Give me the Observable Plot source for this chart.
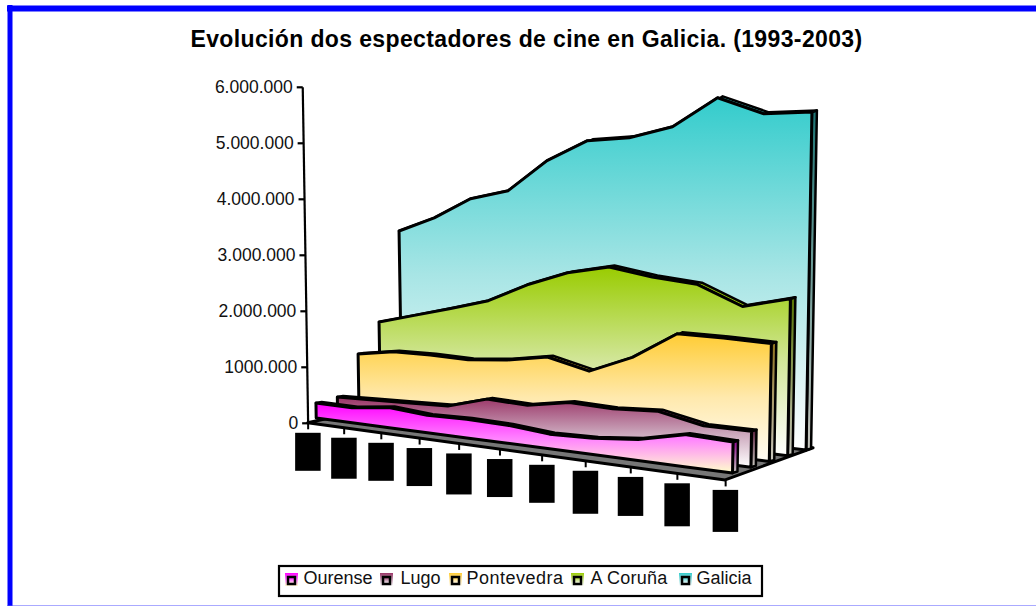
<!DOCTYPE html>
<html>
<head>
<meta charset="utf-8">
<script src="https://cdn.jsdelivr.net/npm/d3@7"></script>
<script src="https://cdn.jsdelivr.net/npm/@observablehq/plot@0.6"></script>
<style>html,body{margin:0;padding:0;background:#fff}svg{display:block}</style>
</head>
<body>
<div id="chart"></div>
<script>
const titleText = "Evolución dos espectadores de cine en Galicia. (1993-2003)";
const years = [1993,1994,1995,1996,1997,1998,1999,2000,2001,2002,2003];
const ourense    = [268000,267000,356000,307000,329000,318000,257000,284000,366000,554000,534000];
const lugo       = [304000,333000,362000,394000,602000,582000,724000,707000,764000,612000,621000];
const pontevedra = [1000000,1114000,1138000,1131000,1211000,1347000,1185000,1514000,2017000,2033000,2034000];
const coruna     = [1500000,1690000,1885000,2097000,2454000,2742000,2923000,2828000,2785000,2484000,2707000];
const galicia    = [3054000,3352000,3757000,3965000,4562000,4979000,5098000,5359000,5931000,5723000,5828000];
const seriesNames = ["Ourense","Lugo","Pontevedra","A Coruña","Galicia"];
const tickValues = [0,1000000,2000000,3000000,4000000,5000000,6000000];
const tickLabels = ["0","1000.000","2.000.000","3.000.000","4.000.000","5.000.000","6.000.000"];

// layout & style (separate from data)
const seriesValues = [ourense,lugo,pontevedra,coruna,galicia];
const topColors = ["#ff00ff","#993366","#ffcc33","#99cc00","#33cccc"];
const midColors = ["#ff80ff","#c9a3b9","#ffe9ad","#d2e69a","#a7e5e5"];
const bottomColors = ["#ffffcc","#ffffff","#fffdf5","#ffffff","#ffffff"];
const labelBoxHeights = [38,41,38,38,41,38,38,43,39,43,42];
const legendSwatchX = [285,380,449,571,679];
const legendTextX = [303,400,466,590,696];
const textSpacing = new Map([[titleText, 0.37], ["Pontevedra", 0.5], ["A Coruña", 0.25]]);

// 3D perspective projection of (depth k, category i, value v) to the plane
function project(k, i, v) {
  const a = 0.85, u = i / 10;
  const t = a * u / (1 - (1 - a) * u);
  const kk = k < 0 ? k * 3 : k;
  const xb = (316.2 + 21.4 * k) * (1 - t) + (732.5 + 18.4 * k) * t;
  const yb = (418 - 4 * kk) * (1 - t) + (473 - 5.75 * kk) * t;
  const m = v / 1e6;
  return {x: xb + (-0.9 + 1.9 * t) * m, y: yb - (56 + 2 * t) * m};
}
const bandData = (fa, fb) => years.map((yr, i) => {
  const p = fa(i), q = fb(i);
  return {x1: p.x, y1: p.y, x2: q.x, y2: q.y};
});
const band = (data, o) => Plot.area(data, {x1: "x1", y1: "y1", x2: "x2", y2: "y2", curve: "linear", stroke: "#000", strokeLinejoin: "round", ...o});

const defs = () => {
  const g = d3.create("svg:defs");
  topColors.forEach((c, j) => {
    const lg = g.append("linearGradient").attr("id", "grad" + j).attr("x1", 0).attr("x2", 0).attr("y1", 0).attr("y2", 1);
    lg.append("stop").attr("offset", "0%").attr("stop-color", c);
    lg.append("stop").attr("offset", "50%").attr("stop-color", midColors[j]);
    lg.append("stop").attr("offset", "100%").attr("stop-color", bottomColors[j]);
    const sg = g.append("linearGradient").attr("id", "side" + j).attr("x1", 0).attr("x2", 0).attr("y1", 0).attr("y2", 1);
    sg.append("stop").attr("offset", "0%").attr("stop-color", d3.color(c).darker(1.6).formatHex());
    sg.append("stop").attr("offset", "100%").attr("stop-color", "#c8c8c0");
  });
  return g.node();
};

const depth = 0.27;
const marks = [defs];

// frame
marks.push(
  Plot.ruleY([8], {x1: 7, x2: 1036, stroke: "#0000ff", strokeWidth: 6}),
  Plot.ruleX([9.5], {y1: 5, y2: 606, stroke: "#0000ff", strokeWidth: 5}),
  Plot.ruleY([605.5], {x1: 7, x2: 1036, stroke: "#5555ff", strokeWidth: 1})
);

// floor
const floorCorners = [[-0.4,0],[4.38,0],[4.38,10],[-0.4,10]].map(([k,i]) => project(k,i,0));
marks.push(Plot.area([
  {x1: floorCorners[0].x, y1: floorCorners[0].y, x2: floorCorners[1].x, y2: floorCorners[1].y},
  {x1: floorCorners[3].x, y1: floorCorners[3].y, x2: floorCorners[2].x, y2: floorCorners[2].y}
], {x1: "x1", y1: "y1", x2: "x2", y2: "y2", fill: "#777", stroke: "#000", strokeWidth: 3}));

// y axis
const axisBottom = project(-0.4, 0, 0), axisTop = project(-0.4, 0, 6000000);
const axisTicks = tickValues.map((v, j) => ({...project(-0.4, 0, v), label: tickLabels[j]}));
marks.push(
  Plot.link([0], {x1: () => axisBottom.x, y1: () => axisBottom.y, x2: () => axisTop.x, y2: () => axisTop.y, stroke: "#000", strokeWidth: 2.2}),
  Plot.link(axisTicks, {x1: d => d.x - 6, x2: "x", y1: "y", y2: "y", stroke: "#000", strokeWidth: 2.2}),
  Plot.text(axisTicks, {x: d => d.x - 10, y: "y", text: "label", textAnchor: "end", fontSize: 17.5, fontFamily: "Liberation Sans", fill: "#111"})
);

// series from back to front
for (let j = 4; j >= 0; j--) {
  const v = seriesValues[j];
  const fill = `url(#grad${j})`;
  const fb = project(j + depth, 10, 0), fbf = project(j, 10, 0), ft = project(j, 10, v[10]), ftb = project(j + depth, 10, v[10]);
  marks.push(
    band([{x1: fbf.x, y1: fbf.y, x2: fb.x, y2: fb.y}, {x1: ft.x, y1: ft.y, x2: ftb.x, y2: ftb.y}], {fill: `url(#side${j})`, strokeWidth: 2.5}),
    band(bandData(i => project(j, i, v[i]), i => project(j + depth, i, v[i])), {fill: topColors[j], strokeWidth: 2.5}),
    band(bandData(i => project(j, i, 0), i => project(j, i, v[i])), {fill, strokeWidth: 3})
  );
}

// x ticks and blacked-out category labels
const xTicks = years.map((yr, i) => ({...project(-0.4, i, 0), year: yr, h: labelBoxHeights[i]}));
marks.push(
  Plot.link(xTicks, {x1: "x", x2: "x", y1: "y", y2: d => d.y + 6, stroke: "#000", strokeWidth: 2}),
  Plot.rect(xTicks, {x1: d => d.x - 12.5, x2: d => d.x + 13, y1: d => d.y + 10, y2: d => d.y + 10 + d.h, fill: "#000", title: d => String(d.year)})
);

// title
marks.push(Plot.text([titleText], {x: () => 526, y: () => 39, text: d => d, fontSize: 23, fontWeight: "bold", fontFamily: "Liberation Sans", fill: "#000"}));

// legend
marks.push(
  Plot.rect([0], {x1: () => 279, x2: () => 762, y1: () => 566, y2: () => 596, fill: "#fff", stroke: "#000", strokeWidth: 2.2})
);
seriesNames.forEach((name, j) => {
  const x = legendSwatchX[j];
  marks.push(
    Plot.text([name], {x: () => legendTextX[j], y: () => 578, text: d => d, textAnchor: "start", fontSize: 18, fontFamily: "Liberation Sans", fill: "#111"}),
    Plot.rect([name], {x1: () => x, x2: () => x + 13, y1: () => 573, y2: () => 586, fill: `url(#grad${j})`}),
    Plot.rect([name], {x1: () => x + 3, x2: () => x + 10, y1: () => 577, y2: () => 584, fill: `url(#grad${j})`, stroke: "#000", strokeWidth: 2.5})
  );
});

const chart = Plot.plot({
  width: 1036, height: 606,
  margin: 0,
  style: {background: "#fff", overflow: "visible"},
  x: {domain: [0, 1036], range: [0, 1036], axis: null},
  y: {domain: [0, 606], range: [0, 606], axis: null},
  marks
});
d3.select(chart).selectAll("text").each(function() {
  const s = textSpacing.get(this.textContent);
  if (s) this.setAttribute("letter-spacing", s);
});
document.getElementById("chart").appendChild(chart);
</script>
</body>
</html>
